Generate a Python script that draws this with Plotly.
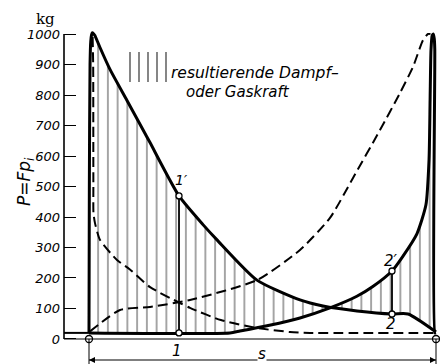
import plotly.graph_objects as go

# ---- data: stroke fraction s (0 = left dead centre, 1 = right dead centre), force P in kg ----
# solid curve A (pressure on one side, expansion)
a_s = [0.0, 0.001, 0.003, 0.005, 0.0075, 0.0095, 0.013, 0.017, 0.022, 0.032, 0.0605, 0.1095,
       0.1556, 0.1758, 0.2594, 0.3285, 0.3689, 0.4841, 0.608, 0.6744, 0.7723, 0.8732, 0.9193, 1.0]
a_p = [20, 500, 900, 975, 998, 1004, 1001, 995, 982, 955, 884, 782,
       686, 644, 469, 375, 325, 193, 128, 108, 92, 82, 82, 23]
# solid curve B (counter pressure, exhaust + compression)
b_s = [0.0, 0.406, 0.435, 0.52, 0.608, 0.6945, 0.772, 0.818, 0.8732, 0.905, 0.945, 0.971,
       0.98, 0.983, 0.9856, 0.989, 0.992, 0.995, 0.9965, 0.997, 1.0]
b_p = [20, 20, 26, 45, 69, 102, 140, 172, 223, 272, 345, 440,
       590, 784, 948, 995, 1000, 985, 950, 20, 20]
# dashed curve C
c_s = [0.0105, 0.012, 0.0124, 0.0126, 0.0129, 0.0173, 0.0317, 0.0807, 0.118, 0.176, 0.262,
       0.291, 0.38, 0.484, 0.579, 0.637, 1.0]
c_p = [990, 900, 700, 500, 413, 380, 325, 259, 228, 170, 118,
       102, 62, 36, 23, 20, 20]
# dashed curve D
d_s = [0.003, 0.0893, 0.1758, 0.291, 0.484, 0.608, 0.6945, 0.7608, 0.8386, 0.8963, 0.9337,
       0.9625, 0.977, 0.984]
d_p = [25, 95, 105, 128, 193, 292, 397, 528, 685, 807, 892,
       980, 1000, 1000]
# marked points 1 / 1' and 2 / 2'
pt_s = [0.2594, 0.8732]
pt_low = [20, 82]
pt_high = [469, 223]
stroke_ends_s = [0.0, 1.0]
stroke_ends_p = [0, 0]
y_ticks = [0, 100, 200, 300, 400, 500, 600, 700, 800, 900, 1000]

# ---- layout geometry ----
X_RANGE = [-0.07205, 1.01153]
Y_RANGE = [-82, 1111.5]
ITAL = dict(family="DejaVu Sans", style="italic", color="black")
SPL = dict(shape="spline", smoothing=0.6)

fig = go.Figure()

# hatched area between A and B
fig.add_trace(go.Scatter(x=b_s, y=b_p, mode="lines", line=dict(width=0, **SPL),
                         hoverinfo="skip", showlegend=False))
fig.add_trace(go.Scatter(x=a_s, y=a_p, mode="lines", line=dict(width=0, **SPL), fill="tonexty",
                         fillcolor="rgba(0,0,0,0)",
                         fillpattern=dict(shape="|", size=9.75, solidity=0.1,
                                          fgcolor="#333", fgopacity=0.9),
                         hoverinfo="skip", showlegend=False))

# dashed curves
for xs, ys in [(c_s, c_p), (d_s, d_p)]:
    fig.add_trace(go.Scatter(x=xs, y=ys, mode="lines",
                             line=dict(color="black", width=2, dash="10px,5px", **SPL),
                             showlegend=False))
# solid curves
for xs, ys in [(a_s, a_p), (b_s, b_p)]:
    fig.add_trace(go.Scatter(x=xs, y=ys, mode="lines",
                             line=dict(color="black", width=3, **SPL),
                             showlegend=False))

# 1-1' and 2-2' ordinates
for s, lo, hi in zip(pt_s, pt_low, pt_high):
    fig.add_trace(go.Scatter(x=[s, s], y=[lo, hi], mode="lines+markers",
                             line=dict(color="black", width=1.8),
                             marker=dict(symbol="circle", size=6, color="white",
                                         line=dict(color="black", width=1.3)),
                             showlegend=False))
# stroke end markers
fig.add_trace(go.Scatter(x=stroke_ends_s, y=stroke_ends_p, mode="markers",
                         marker=dict(symbol="circle", size=7, color="white",
                                     line=dict(color="black", width=1.3)),
                         showlegend=False, cliponaxis=False))

# stroke length arrow s
arrow_p = -69
fig.add_trace(go.Scatter(x=stroke_ends_s, y=[arrow_p, arrow_p], mode="lines+markers",
                         line=dict(color="black", width=1.1),
                         marker=dict(symbol=["arrow-left", "arrow-right"], size=6,
                                     color="black", line=dict(width=0)),
                         showlegend=False, cliponaxis=False))

shapes = []
# y axis line 0..1000
shapes.append(dict(type="line", xref="paper", yref="y", x0=0, x1=0, y0=0, y1=1000,
                   line=dict(color="black", width=1.6)))
# base line P = 0
shapes.append(dict(type="line", xref="paper", yref="y", x0=0, x1=1, y0=0, y1=0,
                   line=dict(color="black", width=1.2)))
# back-pressure line left of stroke
shapes.append(dict(type="line", xref="x", yref="y", x0=X_RANGE[0], x1=0, y0=20, y1=20,
                   line=dict(color="black", width=2)))
# stroke limit verticals
for s in stroke_ends_s:
    shapes.append(dict(type="line", xref="x", yref="y", x0=s, x1=s, y0=0, y1=Y_RANGE[0],
                       line=dict(color="black", width=1)))
# legend hatch sample
for px in [130, 139, 148, 157, 166]:
    xp = (px - 64) / 376
    shapes.append(dict(type="line", xref="paper", yref="paper", x0=xp, x1=xp,
                       y0=1 - 82 / 364, y1=1 - 52 / 364,
                       line=dict(color="#222", width=1.1)))

ann = []
ann.append(dict(x=0.4986, y=-50, xref="x", yref="y", text="s", showarrow=False,
                bgcolor="white", borderpad=0, font=dict(size=15, **ITAL)))
ann.append(dict(x=pt_s[0] + 0.006, y=pt_high[0] + 52, xref="x", yref="y", text="1′",
                showarrow=False, font=dict(size=14, **ITAL)))
ann.append(dict(x=pt_s[0] - 0.006, y=-39, xref="x", yref="y", text="1",
                showarrow=False, font=dict(size=15, **ITAL)))
ann.append(dict(x=pt_s[1] - 0.003, y=pt_high[1] + 34, xref="x", yref="y", text="2′",
                showarrow=False, font=dict(size=15, **ITAL)))
ann.append(dict(x=pt_s[1] - 0.003, y=pt_low[1] - 33, xref="x", yref="y", text="2",
                showarrow=False, font=dict(size=15, **ITAL)))
ann.append(dict(x=(45 - 64) / 376, y=1 - 19 / 364, xref="paper", yref="paper", text="kg",
                xanchor="center", yanchor="middle", showarrow=False,
                font=dict(family="DejaVu Serif", size=15, color="black")))
ann.append(dict(x=(25 - 64) / 376, y=1 - 182 / 364, xref="paper", yref="paper",
                xanchor="center", yanchor="middle",
                text="P=Fp<sub>i</sub>", textangle=-90, showarrow=False,
                font=dict(size=17, **ITAL)))
ann.append(dict(x=(169 - 64) / 376, y=1 - 62 / 364, xref="paper", yref="paper",
                xanchor="left", text="resultierende Dampf–", showarrow=False,
                font=dict(size=15.5, **ITAL)))
ann.append(dict(x=(184 - 64) / 376, y=1 - 81 / 364, xref="paper", yref="paper",
                xanchor="left", text="oder Gaskraft", showarrow=False,
                font=dict(size=15, **ITAL)))

fig.update_layout(
    width=440, height=364,
    margin=dict(l=64, r=0, t=0, b=0),
    paper_bgcolor="white", plot_bgcolor="white",
    xaxis=dict(range=X_RANGE, visible=False, showgrid=False, zeroline=False),
    yaxis=dict(range=Y_RANGE, tickmode="array", tickvals=y_ticks,
               ticktext=[str(v) for v in y_ticks],
               ticks="inside", ticklen=12, tickwidth=1.3, tickcolor="black",
               ticklabelstandoff=3,
               showgrid=False, zeroline=False, showline=False,
               tickfont=dict(size=13, **ITAL)),
    shapes=shapes, annotations=ann, showlegend=False,
)

fig.write_html("out.html")
